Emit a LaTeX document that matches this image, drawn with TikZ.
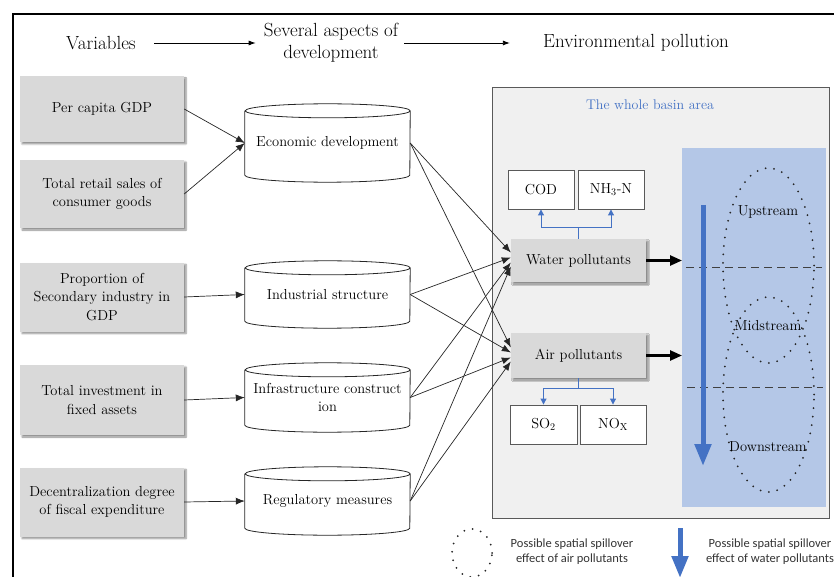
\documentclass[tikz,border=0pt]{standalone}
\usepackage{fontspec}
\newfontfamily\legendfont{Carlito}
\usetikzlibrary{arrows.meta,shadows.blur}
\definecolor{boxgray}{HTML}{D9D9D9}
\definecolor{basinfill}{HTML}{F0F0F0}
\definecolor{panelblue}{HTML}{B4C7E7}
\definecolor{mblue}{HTML}{4472C4}
\definecolor{edgegray}{HTML}{595959}
\tikzset{
 body/.style={font=\fontsize{14.5}{18.5}\selectfont, align=center, text=black},
 hdr/.style={font=\fontsize{19}{22}\selectfont, align=center, inner sep=0pt},
 shade box/.style={blur shadow={shadow xshift=2pt, shadow yshift=-2pt, shadow blur steps=6, shadow opacity=45}},
 varbox/.style={body, fill=boxgray, minimum width=164pt, inner sep=0pt, shade box},
 cylnode/.style={body, minimum width=165pt, inner sep=0pt},
 cylline/.style={draw=black!85, line width=0.8pt},
 link/.style={draw=black!85, line width=0.7pt, -{Latex[length=9pt,width=7pt]}},
 harrow/.style={line width=0.8pt, -{Latex[length=7pt,width=5pt]}},
 polbox/.style={body, fill=boxgray, minimum width=135pt, inner sep=0pt, shade box},
 subbox/.style={body, draw=edgegray, fill=white, line width=0.9pt, minimum height=39pt, inner sep=0pt},
 bluelink/.style={draw=mblue, line width=1pt},
 bluearrow/.style={bluelink, -{Triangle[length=6pt,width=6pt]}},
 thickarrow/.style={line width=2.5pt, -{Triangle[length=12pt,width=10pt]}},
 bigblue/.style={draw=mblue, line width=5pt, -{Triangle[length=22pt,width=16pt]}},
 dotline/.style={draw=black!85, line width=2pt, line cap=round, dash pattern=on 0pt off 8.5pt},
 dashline/.style={draw=black!75, line width=1pt, dash pattern=on 8pt off 5pt},
 legendtext/.style={font=\legendfont\fontsize{12.5}{15}\selectfont, align=center, text=black!80}
}
\begin{document}
\begin{tikzpicture}[x=1pt,y=-1pt]
\useasboundingbox (0,0) rectangle (834,577);
\draw[line width=1.5pt] (13,577) -- (13,14) -- (834,14);

% header
\node[hdr] (hv) at (101,43) {Variables};
\node[hdr] (hs) at (331,43) {Several aspects of\\development};
\node[hdr] (he) at (636,43) {Environmental pollution};
\draw[harrow] ([xshift=18pt]hv.east) -- ([xshift=-8pt]hs.west);
\draw[harrow] ([xshift=6pt]hs.east) -- ([xshift=-33pt]he.west);

% variable boxes
\node[varbox, minimum height=66pt] (b1) at (102,109) {Per capita GDP};
\node[varbox, minimum height=68pt] (b2) at (102,194) {Total retail sales of\\consumer goods};
\node[varbox, minimum height=69pt] (b3) at (102,297) {Proportion of\\Secondary industry in\\GDP};
\node[varbox, minimum height=70pt] (b4) at (102,400) {Total investment in\\fixed assets};
\node[varbox, minimum height=69pt] (b5) at (102,502) {Decentralization degree\\of fiscal expenditure};

% cylinders
\node[cylnode, minimum height=64pt] (c1) at (327.5,143) {Economic development};
\node[cylnode, minimum height=53pt] (c2) at (327.5,294.5) {Industrial structure};
\node[cylnode, minimum height=55pt] (c3) at (327.5,397.5) {Infrastructure construct\\ion};
\node[cylnode, minimum height=54pt] (c4) at (327.5,501) {Regulatory measures};
\foreach \c in {c1,c2,c3,c4}{
  \draw[cylline] (\c.north west) -- (\c.south west)
    arc[start angle=180,end angle=360,x radius=82.5pt,y radius=7pt]
    -- (\c.north east)
    arc[start angle=0,end angle=180,x radius=82.5pt,y radius=7pt]
    arc[start angle=180,end angle=360,x radius=82.5pt,y radius=7pt];
}

\draw[link] (b1.east) -- (c1.west);
\draw[link] (b2.east) -- (c1.west);
\draw[link] (b3.east) -- (c2.west);
\draw[link] (b4.east) -- (c3.west);
\draw[link] (b5.east) -- (c4.west);

% basin area
\node[draw=edgegray, fill=basinfill, line width=0.9pt, minimum width=337pt, minimum height=431pt, anchor=north west, inner sep=0pt] (basin) at (492,87) {};
\node[body, text=mblue, font=\fontsize{14}{17}\selectfont] (title) at (650,105) {The whole basin area};
\node[fill=panelblue, minimum width=144pt, minimum height=359pt, anchor=north west, inner sep=0pt] (panel) at (682,148) {};

% sub boxes
\node[subbox, minimum width=66pt] (cod) at (541,189.5) {COD};
\node[subbox, minimum width=66pt] (nh) at (611,189.5) {NH\textsubscript{3}-N};
\node[polbox, minimum height=43pt] (water) at (578.5,260.5) {Water pollutants};
\node[polbox, minimum height=45pt] (air) at (578.5,355.5) {Air pollutants};
\node[subbox, minimum width=67pt] (so) at (543.5,424.5) {SO\textsubscript{2}};
\node[subbox, minimum width=66pt] (nox) at (613,424.5) {NO\textsubscript{X}};

\coordinate (wj) at (578.5,227);
\draw[bluelink] (water.north) -- (wj);
\draw[bluearrow] (wj) -| (cod.south);
\draw[bluearrow] (wj) -| (nh.south);
\coordinate (aj) at (578.5,388);
\draw[bluelink] (air.south) -- (aj);
\draw[bluearrow] (aj) -| (so.north);
\draw[bluearrow] (aj) -| (nox.north);

% links from aspects to pollutants
\draw[link] (c1.east) -- ([yshift=8pt]water.west);
\draw[link] (c1.east) -- ([yshift=8pt]air.west);
\draw[link] (c2.east) -- ([yshift=3pt]water.west);
\draw[link] (c2.east) -- ([yshift=3pt]air.west);
\draw[link] (c3.east) -- ([yshift=-2pt]water.west);
\draw[link] (c3.east) -- ([yshift=-2pt]air.west);
\draw[link] (c4.east) -- ([yshift=-6pt]water.west);
\draw[link] (c4.east) -- ([yshift=-6pt]air.west);

\draw[thickarrow] (water.east) -- (panel.west |- water.east);
\draw[thickarrow] (air.east) -- (panel.west |- air.east);

% panel contents
\draw[dashline] (686,267) -- (822,267);
\draw[dashline] (687,387) -- (823,387);
\draw[dotline] (768.5,265.5) ellipse [x radius=45.5pt, y radius=97.5pt];
\draw[dotline] (768.5,394.5) ellipse [x radius=45.5pt, y radius=97.5pt];
\coordinate (wt) at (703,205);
\coordinate (wb) at (703,466);
\draw[bigblue] (wt) -- (wb);
\node[body] (ups) at (768,212) {Upstream};
\node[body] (mid) at (768,326) {Midstream};
\node[body] (down) at (768,447) {Downstream};

% legend
\draw[dotline] (472,553) ellipse [x radius=20pt, y radius=24pt];
\node[legendtext] (l1) at (572,552) {Possible spatial spillover\\effect of air pollutants};
\coordinate (lt) at (680,528);
\coordinate (lb) at (680,578);
\draw[bigblue] (lt) -- (lb);
\node[legendtext] (l2) at (770,552) {Possible spatial spillover\\effect of water pollutants};
\end{tikzpicture}
\end{document}
